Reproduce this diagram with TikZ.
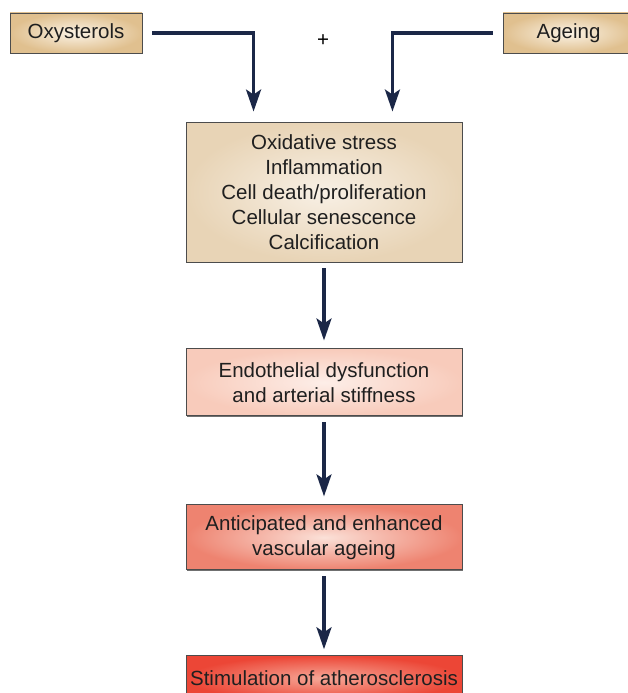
\documentclass[tikz,border=0pt]{standalone}
\usepackage{fontspec}
\setmainfont{Liberation Sans}
\usepackage{xcolor}
\usepackage{tikz}
\usetikzlibrary{arrows.meta, positioning, shadows}
\definecolor{navy}{HTML}{1B2747}
\definecolor{tanout}{HTML}{E0C08F}
\definecolor{tanin}{HTML}{FBF3E6}
\definecolor{beigeout}{HTML}{E8D4B6}
\definecolor{beigein}{HTML}{F8F0E5}
\definecolor{pinkout}{HTML}{F8CBBB}
\definecolor{pinkin}{HTML}{FDEEE8}
\definecolor{salmonout}{HTML}{EE8370}
\definecolor{salmonin}{HTML}{FBE1D8}
\definecolor{redout}{HTML}{EC4636}
\definecolor{redin}{HTML}{F6A898}
\tikzset{
        box/.style={rectangle, draw=black!70, line width=0.9pt, text=black!88, align=center, inner sep=0pt,
            minimum width=276pt, shading=radial,
            drop shadow={shadow xshift=1pt, shadow yshift=-1pt, fill=black!70, opacity=0.8}},
        source/.style={box, minimum height=40pt, inner color=tanin, outer color=tanout},
        effect/.style={box, minimum height=140pt, inner color=beigein, outer color=beigeout},
        arrow/.style={-{Stealth[length=22pt, width=15pt, inset=5pt]}, line width=3.2pt, navy},
    }
\begin{document}
\begin{tikzpicture}[x=1pt, y=1pt, font=\fontsize{20.5}{25}\selectfont]
        \useasboundingbox (0,0) rectangle (628,-693);

        % === SOURCES ===
        \node[source, minimum width=132pt] (oxy) at (76,-33) {Oxysterols};
        \node[source, minimum width=131pt] (age) at (568.5,-33) {Ageing};
        \node (plus) at (323,-41) {+};

        % === MECHANISMS ===
        \node[effect] (mech) at (324,-192) {Oxidative stress\\Inflammation\\Cell death/proliferation\\Cellular senescence\\Calcification};

        \draw[arrow, shorten <=10pt, shorten >=10pt] (oxy.east) -| ([xshift=68pt]mech.north west);
        \draw[arrow, shorten <=10pt, shorten >=10pt] (age.west) -| ([xshift=-70pt]mech.north east);

        % === CONSEQUENCES ===
        \node[box, minimum height=67pt, inner color=pinkin, outer color=pinkout,
            below=86pt of mech] (endo) {Endothelial dysfunction\\and arterial stiffness};
        \node[box, minimum height=65pt, inner color=salmonin, outer color=salmonout,
            below=88pt of endo] (vasc) {Anticipated and enhanced\\vascular ageing};
        \node[box, minimum height=45pt, inner color=redin, outer color=redout,
            below=85pt of vasc] (athero) {Stimulation of atherosclerosis};

        \draw[arrow, shorten <=6pt, shorten >=8pt] (mech) -- (endo);
        \draw[arrow, shorten <=6pt, shorten >=8pt] (endo) -- (vasc);
        \draw[arrow, shorten <=6pt, shorten >=6pt] (vasc) -- (athero);

    \end{tikzpicture}
\end{document}
